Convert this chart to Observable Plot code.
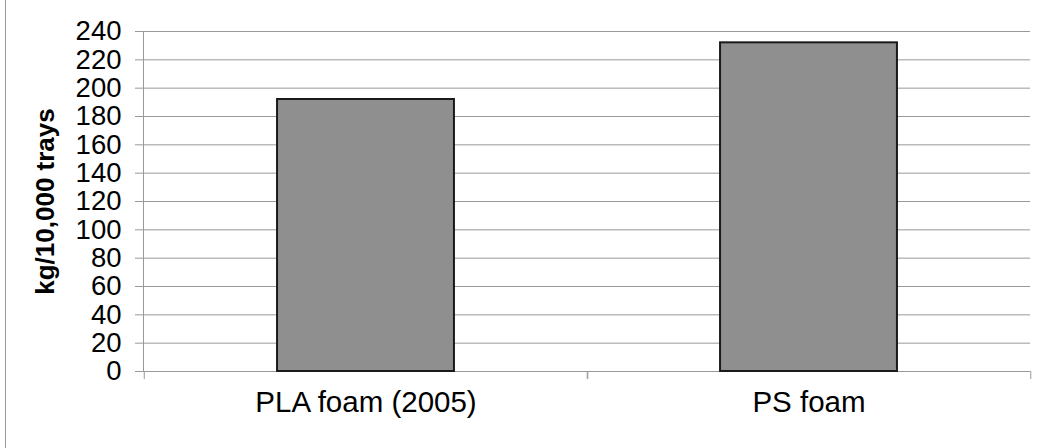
<!DOCTYPE html>
<html>
<head>
<meta charset="utf-8">
<script src="https://cdn.jsdelivr.net/npm/d3@7"></script>
<script src="https://cdn.jsdelivr.net/npm/@observablehq/plot@0.6"></script>
<style>
  html, body { margin: 0; padding: 0; background: #fff; }
  #wrap { position: relative; width: 1045px; height: 448px; overflow: hidden; }
  #border { position: absolute; left: 5px; top: 0; width: 0; height: 448px; border-left: 1px solid #9a9a9a; }
</style>
</head>
<body>
<div id="wrap"><div id="border"></div><div id="chart"></div></div>
<script>
const categories = ["PLA foam (2005)", "PS foam"];
const values = [192, 232];
const yTicks = [0, 20, 40, 60, 80, 100, 120, 140, 160, 180, 200, 220, 240];
const yLabel = "kg/10,000 trays";

const data = categories.map((c, i) => ({category: c, value: values[i]}));

const width = 1045, height = 448;
const marginLeft = 143, marginRight = 15, marginTop = 31, marginBottom = 77;
const step = (width - marginLeft - marginRight) / categories.length;
const barInset = step * 0.3;
const gray = "#999";
const font = "Liberation Sans, Arial, sans-serif";

const chart = Plot.plot({
  width, height, marginLeft, marginRight, marginTop, marginBottom,
  style: {fontFamily: font, background: "transparent", color: "#000"},
  x: {domain: categories, padding: 0},
  y: {domain: [0, 240]},
  marks: [
    Plot.gridY(yTicks, {stroke: gray, strokeOpacity: 1, strokeWidth: 1}),
    Plot.axisY(yTicks, {tickSize: 8, tickPadding: 14, fontSize: 27.5, stroke: gray, strokeOpacity: 1, label: null, tickFormat: d => String(d)}),
    Plot.frame({anchor: "left", stroke: gray, strokeOpacity: 1}),
    Plot.axisX({tickSize: 8, dx: -step / 2, tickFormat: () => "", stroke: gray, strokeOpacity: 1, label: null}),
    Plot.axisX({tickSize: 8, dx: step / 2, tickFormat: () => "", stroke: gray, strokeOpacity: 1, label: null}),
    Plot.axisX({tickSize: 0, tickPadding: 20, fontSize: 29.5, label: null}),
    Plot.barY(data, {x: "category", y: "value", fill: "#8f8f8f", stroke: "#1a1a1a", strokeWidth: 2, insetLeft: barInset, insetRight: barInset}),
    Plot.text([yLabel], {frameAnchor: "left", textAnchor: "middle", rotate: -90, dx: -98, fontWeight: "bold", fontSize: 26, text: d => d, fill: "#000"})
  ]
});
document.getElementById("chart").appendChild(chart);
</script>
</body>
</html>
